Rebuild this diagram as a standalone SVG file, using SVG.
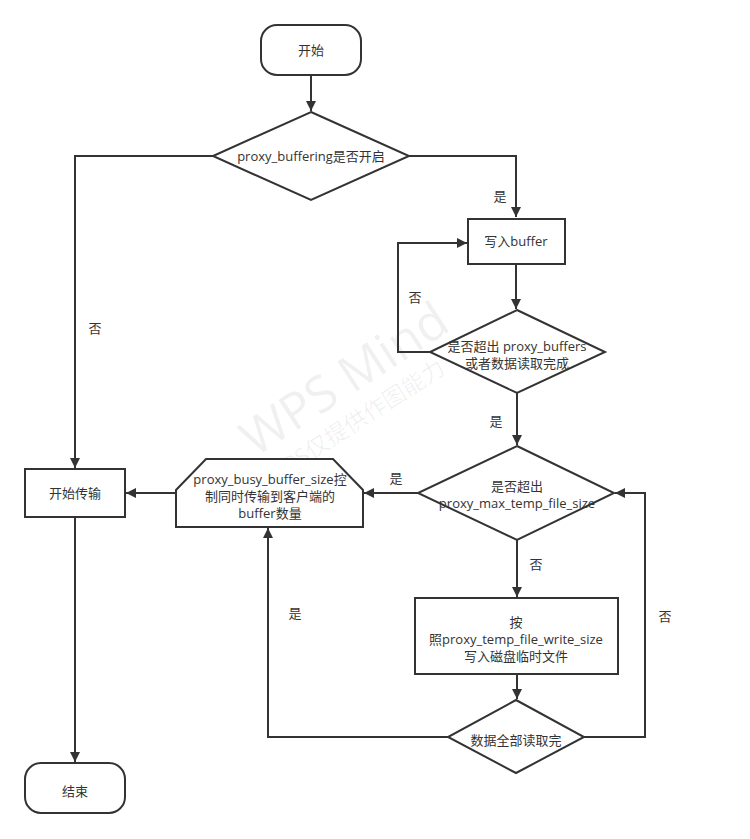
<svg xmlns="http://www.w3.org/2000/svg" width="750" height="839" viewBox="0 0 750 839">
<style>
.s{fill:#fff;stroke:#333;stroke-width:2}
.c{fill:none;stroke:#333;stroke-width:2}
text{font-family:"Open Sans","Noto Sans CJK SC",sans-serif;font-size:13px;fill:#333;text-anchor:middle}
text.wm1{fill:#000;fill-opacity:0.06;font-size:50px}
text.wm2{fill:#000;fill-opacity:0.06;font-size:23px}
</style>
<defs>
<marker id="a" viewBox="0 0 10 10" refX="10" refY="5" markerWidth="5" markerHeight="5" markerUnits="strokeWidth" orient="auto">
<path d="M0,0L10,5L0,10z" fill="#333"/>
</marker>
</defs>
<rect width="750" height="839" fill="#fff"/>
<g id="watermark">
<text class="wm1" x="345" y="396" transform="rotate(-33 345 380)">WPS Mind</text>
<text class="wm2" x="355" y="430" transform="rotate(-33 355 422)">WPS仅提供作图能力</text>
</g>
<g id="connectors">
<path class="c" d="M311,75V111" marker-end="url(#a)"/>
<path class="c" d="M409,156H516V217" marker-end="url(#a)"/>
<path class="c" d="M213,156H75V468" marker-end="url(#a)"/>
<path class="c" d="M516,264V309" marker-end="url(#a)"/>
<path class="c" d="M430,352H398V243H467" marker-end="url(#a)"/>
<path class="c" d="M517,393V445" marker-end="url(#a)"/>
<path class="c" d="M418,493H364" marker-end="url(#a)"/>
<path class="c" d="M176,493H126" marker-end="url(#a)"/>
<path class="c" d="M517,540V597" marker-end="url(#a)"/>
<path class="c" d="M517,674V699" marker-end="url(#a)"/>
<path class="c" d="M448,737H268V528" marker-end="url(#a)"/>
<path class="c" d="M584,737H645V493H615" marker-end="url(#a)"/>
<path class="c" d="M75,517V762" marker-end="url(#a)"/>
<text x="500" y="201">是</text>
<text x="95" y="333">否</text>
<text x="415" y="302">否</text>
<text x="496" y="426">是</text>
<text x="396" y="483">是</text>
<text x="536" y="569">否</text>
<text x="295" y="618">是</text>
<text x="665" y="621">否</text>
</g>
<g id="start">
<rect class="s" x="261" y="25" width="100" height="50" rx="16"/>
<text x="311" y="55">开始</text>
</g>
<g id="d1">
<path class="s" d="M311,112L409,156L311,200L213,156Z"/>
<text x="311" y="161">proxy_buffering是否开启</text>
</g>
<g id="buf">
<rect class="s" x="468" y="219" width="97" height="45"/>
<text x="516" y="246">写入buffer</text>
</g>
<g id="d2">
<path class="s" d="M517,310L605,352L517,393L430,352Z"/>
<text x="517" y="351">是否超出 proxy_buffers</text>
<text x="517" y="368">或者数据读取完成</text>
</g>
<g id="d3">
<path class="s" d="M517,446L614,493L517,540L418,493Z"/>
<text x="517" y="491">是否超出</text>
<text x="517" y="508">proxy_max_temp_file_size</text>
</g>
<g id="hex">
<path class="s" d="M176,490L206,459H333L363,490V527H176Z"/>
<text x="270" y="484">proxy_busy_buffer_size控</text>
<text x="270" y="501">制同时传输到客户端的</text>
<text x="270" y="518">buffer数量</text>
</g>
<g id="trans">
<rect class="s" x="25" y="469" width="100" height="48"/>
<text x="75" y="498">开始传输</text>
</g>
<g id="write">
<rect class="s" x="415" y="598" width="203" height="76"/>
<text x="516" y="627">按</text>
<text x="516" y="644">照proxy_temp_file_write_size</text>
<text x="516" y="661">写入磁盘临时文件</text>
</g>
<g id="d4">
<path class="s" d="M516,700L584,737L516,773L448,737Z"/>
<text x="516" y="745">数据全部读取完</text>
</g>
<g id="end">
<rect class="s" x="25" y="763" width="100" height="50" rx="16"/>
<text x="75" y="796">结束</text>
</g>
</svg>
